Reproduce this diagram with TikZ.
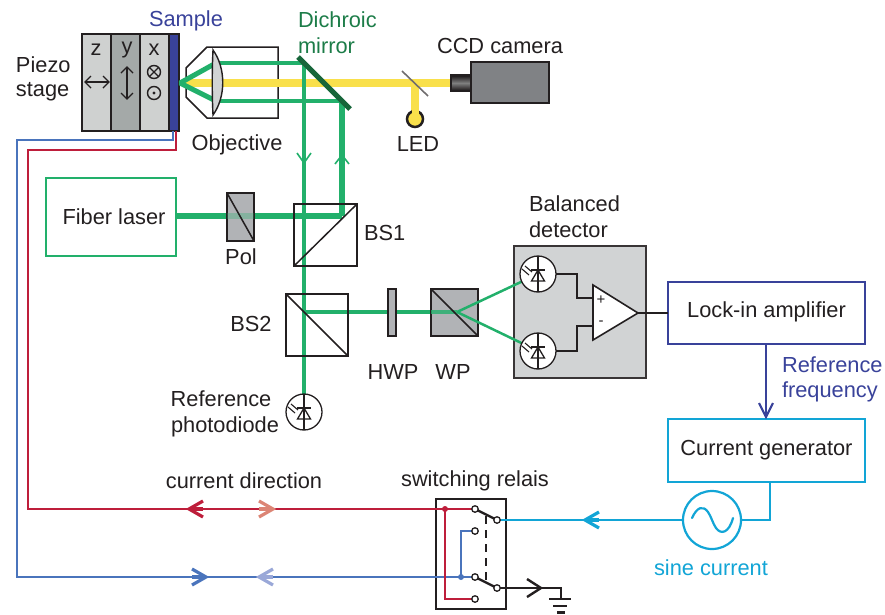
\documentclass[tikz,border=0pt]{standalone}
\usepackage{fontspec}
\setmainfont{Liberation Sans}
\usetikzlibrary{calc}
\definecolor{ink}{HTML}{231F20}
\definecolor{beamg}{HTML}{22B06B}
\definecolor{darkg}{HTML}{17663A}
\definecolor{txtg}{HTML}{1C7C48}
\definecolor{beamy}{HTML}{F9E04B}
\definecolor{navy}{HTML}{39429A}
\definecolor{cyanw}{HTML}{12A5D6}
\definecolor{redw}{HTML}{BE1E3B}
\definecolor{bluew}{HTML}{4A74BC}
\definecolor{lred}{HTML}{DC8575}
\definecolor{lblue}{HTML}{9AA8D8}
\definecolor{pg1}{HTML}{CFD1D0}
\definecolor{pg2}{HTML}{A4A9A8}
\definecolor{optg}{HTML}{B1B3B6}
\definecolor{detg}{HTML}{D1D3D4}
\definecolor{camg}{HTML}{808285}
\tikzset{
  x=1pt,y=-1pt,
  every node/.style={font=\fontsize{21.8}{24}\selectfont,text=ink,inner sep=0pt,outer sep=0pt},
  lab/.style={align=center},
  labl/.style={align=left,anchor=west},
  thickbeam/.style={beamg,line width=6pt},
  midbeam/.style={beamg,line width=4.5pt},
  thinbeam/.style={beamg,line width=2.5pt},
  yelbeam/.style={beamy,line width=7.5pt},
  optic/.style={draw=ink,line width=1.8pt},
  wire/.style={line width=2.7pt},
  thinw/.style={ink,line width=1.5pt},
  chev/.style={line width=3.2pt,line join=miter},
  term/.style={circle,draw=ink,line width=1.3pt,fill=white,minimum size=6.5pt},
  pics/pdiode/.style={code={
    \draw[ink,line width=1.3pt,fill=white] (0,0) circle (18);
    \draw[ink,line width=1.2pt] (0,-18) -- (0,18);
    \draw[ink,line width=1.3pt] (-7,-4) -- (7,-4);
    \draw[ink,line width=1.3pt] (0,-4) -- (-6.5,7) -- (6.5,7) -- cycle;
    \draw[ink,line width=1.1pt] (-16,-5) -- (-9,1);
    \draw[ink,line width=1.1pt] (-13,-8) -- (-6,-2);
  }},
  pics/chevl/.style={code={\draw[chev,pic actions] (9,-8) -- (-5,0) -- (9,8);\draw[chev,pic actions] (-4,0)--(9,0);}},
  pics/chevr/.style={code={\draw[chev,pic actions] (-9,-8) -- (5,0) -- (-9,8);\draw[chev,pic actions] (4,0)--(-9,0);}},
}
\begin{document}
\begin{tikzpicture}
\useasboundingbox (0,0) rectangle (885,614);
% ---- coordinates
\coordinate (focus) at (180,83);
\coordinate (lensT) at (216,63);
\coordinate (lensB) at (216,101);
\coordinate (mT) at (304,63);
\coordinate (mB) at (342,101);
\coordinate (split) at (415,83);
\coordinate (ledtop) at (415,119);
\coordinate (laserbend) at (342,216);
\coordinate (bs2c) at (304,312);
\coordinate (wpc) at (457,312);

% ---- stage
\node[draw=ink,line width=1.5pt,fill=pg1,minimum width=29pt,minimum height=97pt] (pz) at (96.5,82.5) {};
\node[draw=ink,line width=1.5pt,fill=pg2,minimum width=29pt,minimum height=97pt] (py) at (125.5,82.5) {};
\node[draw=ink,line width=1.5pt,fill=pg1,minimum width=29pt,minimum height=97pt] (px) at (154.5,82.5) {};
\node[draw=ink,line width=1.5pt,fill=navy,minimum width=10pt,minimum height=97pt] (sample) at (174,82.5) {};
\node at (96,50) {z};
\node at (127,50) {y};
\node at (154,50) {x};
\coordinate (za) at (85,82); \coordinate (zb) at (109,82);
\coordinate (ya) at (127,67); \coordinate (yb) at (127,99);
\draw[ink,line width=1.4pt] (za) -- (zb);
\draw[ink,line width=1.4pt] (91,76) -- (za) -- (91,88) (103,76) -- (zb) -- (103,88);
\draw[ink,line width=1.4pt] (ya) -- (yb);
\draw[ink,line width=1.4pt] (121,73) -- (ya) -- (133,73) (121,93) -- (yb) -- (133,93);
\draw[ink,line width=1.4pt] (154,72) circle (6.5);
\draw[ink,line width=1.2pt] (149.5,67.5) -- (158.5,76.5) (149.5,76.5) -- (158.5,67.5);
\draw[ink,line width=1.4pt] (154,93) circle (6.5);
\fill[ink] (154,93) circle (1.6);

% ---- objective
\draw[ink,line width=1.5pt,fill=white] (186,68) -- (207,47) -- (278,47) -- (278,118) -- (207,118) -- (186,97) -- cycle;

% ---- beams
\draw[yelbeam] (184,83) -- (split) -- (450,83);
\draw[yelbeam] (split) -- (ledtop);
\draw[beamg,line width=5pt,line join=bevel] (lensT) -- (focus) -- (lensB);
\draw[midbeam] (lensT) -- (mT);
\draw[midbeam] (lensB) -- (mB);
\draw[midbeam] (mT) -- (304,395);
\draw[thickbeam] (mB) -- (laserbend);
\draw[thickbeam] (176,216) -- (laserbend);
\draw[midbeam] (bs2c) -- (wpc);

% ---- lens
\draw[ink,line width=1.4pt,fill=detg] (213,50) .. controls (226,68) and (226,97) .. (213,115) .. controls (212,95) and (212,70) .. (213,50) -- cycle;

% ---- mirror, camera
\draw[darkg,line width=5pt] (298,57) -- (350,109);
\draw[ink!65,line width=1.6pt] (402,71) -- (428,96);
\draw[ink,line width=2.5pt] (451,75) rectangle (471,91);
\shade[top color=ink,bottom color=ink,middle color=gray] (452,76) rectangle (470,90);
\node[draw=ink,line width=2pt,fill=camg,minimum width=78pt,minimum height=41pt] (ccd) at (510,82.5) {};
\draw[ink,line width=2.5pt,fill=beamy] (ledtop) circle (8);
\draw[yelbeam,line width=7pt] (415,95) -- (415,118);

% ---- little arrows on the beams
\draw[beamg,line width=1.6pt] (297,153) -- (304,163) -- (311,153);
\draw[beamg,line width=1.6pt] (335,164) -- (342,155) -- (349,164);

% ---- laser, optics
\node[draw=beamg,line width=2.2pt,minimum width=130pt,minimum height=78pt] (laser) at (111,217) {};
\node at (114,217) {Fiber laser};
\node[optic,fill=optg,minimum width=27pt,minimum height=48pt] (pol) at (240.5,217) {};
\draw[beamg,line width=6pt,opacity=.3] (227,216) -- (254,216);
\draw[ink,line width=1.5pt] (pol.north west) -- (pol.south east);
\node[draw=ink,line width=1.4pt,minimum width=63pt,minimum height=62pt] (bs1) at (325.5,235) {};
\draw[ink,line width=1.5pt] (bs1.south west) -- (bs1.north east);
\node[draw=ink,line width=1.6pt,minimum width=62pt,minimum height=62pt] (bs2) at (317,325) {};
\draw[ink,line width=1.5pt] (bs2.north west) -- (bs2.south east);
\node[optic,fill=optg,minimum width=8pt,minimum height=47pt] (hwp) at (392,312.5) {};
\node[optic,fill=optg,minimum width=47pt,minimum height=47pt] (wp) at (454.5,312.5) {};
\draw[midbeam,opacity=.8] (431,312) -- (wpc);
\draw[ink,line width=1.5pt] (wp.north west) -- (wp.south east);

% ---- detector
\node[draw=ink!90,line width=2.8pt,fill=detg,minimum width=132pt,minimum height=132pt] (det) at (580,312) {};
\coordinate (pd1) at (538,274);
\coordinate (pd2) at (538,351);
\draw[thinbeam] (wpc) -- (pd1);
\draw[thinbeam] (wpc) -- (pd2);
\pic at (pd1) {pdiode};
\pic at (pd2) {pdiode};
\pic at (304,412) {pdiode};
\coordinate (ampplus) at (593,298);
\coordinate (ampminus) at (593,326);
\coordinate (ampout) at (638,313);
\draw[thinw] (556,274) -- (577,274) -- (577,298) -- (ampplus);
\draw[thinw] (556,351) -- (577,351) -- (577,326) -- (ampminus);
\draw[ink,line width=1.6pt,fill=white] (593,285) -- (593,340) -- (ampout) -- cycle;
\node[font=\fontsize{15}{15}\selectfont] at (601,300) {+};
\node[font=\fontsize{15}{15}\selectfont] at (601,323) {-};

% ---- electronics boxes
\node[draw=navy,line width=2.2pt,minimum width=197pt,minimum height=62pt] (lock) at (766.5,313) {};
\node at (766.5,312) {Lock-in amplifier};
\draw[ink,line width=2pt] (ampout) -- (lock.west);
\node[draw=cyanw,line width=2.2pt,minimum width=197pt,minimum height=63pt] (gen) at (766.5,450.5) {};
\node at (766.5,450.5) {Current generator};
\draw[navy,line width=2.2pt] (766,344) -- (766,418);
\draw[navy,line width=2.2pt,line join=miter] (759,403) -- (766,417) -- (773,403);

% ---- sine source
\node[circle,draw=cyanw,line width=2.2pt,minimum size=58pt] (src) at (712,520) {};
\draw[cyanw,line width=2.2pt,line cap=round] (692,518) .. controls (697,507) and (703,505) .. (708,512) .. controls (711,516) and (713,524) .. (716,528) .. controls (721,535) and (729,533) .. (733,518);
\coordinate (genout) at (770,482);
\draw[cyanw,line width=2.2pt] (genout) -- (770,520) -- (src.east);

% ---- relay
\node[draw=ink,line width=2.8pt,minimum width=70pt,minimum height=110pt] (relay) at (471,554) {};
\coordinate (t1) at (475,509);
\coordinate (t2) at (497,520);
\coordinate (t3) at (475,531);
\coordinate (t4) at (475,577);
\coordinate (t5) at (497,588);
\coordinate (t6) at (475,599);
% wires from the sample
\coordinate (rstart) at (176,131);
\coordinate (bstart) at (173,131);
\draw[bluew,wire,line join=miter] (bstart) -- (173,140) -- (17,140) -- (17,577) -- (t4);
\draw[redw,wire,line join=miter] (rstart) -- (176,150) -- (28,150) -- (28,509) -- (t1);
\draw[redw,wire] (445,509) -- (445,599) -- (t6);
\fill[redw] (445,509) circle (3);
\draw[bluew,wire] (461,577) -- (461,531) -- (t3);
\fill[bluew] (461,577) circle (3);
\draw[cyanw,wire] (src.west) -- (t2);
\draw[ink,line width=2.4pt] (t1) -- (t2);
\draw[ink,line width=2.4pt] (t4) -- (t5);
\draw[ink,line width=1.8pt,dash pattern=on 8pt off 6pt] (486,516) -- (486,582);
\draw[ink,line width=2.4pt] (t5) -- (561,588) -- (561,599);
\draw[ink,line width=2.4pt] (527,579) -- (541,588) -- (527,597);
\draw[ink,line width=2.8pt] (549,599) -- (571,599);
\draw[ink,line width=2.8pt] (553,606) -- (567,606);
\draw[ink,line width=2.8pt] (557,612.5) -- (565,612.5);
\foreach \t in {t1,t2,t3,t4,t5,t6} \node[term] at (\t) {};
% direction chevrons
\pic[redw] at (194,509) {chevl};
\pic[lred] at (268,509) {chevr};
\pic[bluew] at (201,577) {chevr};
\pic[lblue] at (264,577) {chevl};
\pic[cyanw] at (590,520) {chevl};

% ---- labels
\node[lab,text=navy] at (186,21) {Sample};
\node[labl,text=txtg] at (298,20) {Dichroic};
\node[labl,text=txtg] at (298,46) {mirror};
\node[labl] at (16,65) {Piezo};
\node[labl] at (16,92) {stage};
\node at (237,144.5) {Objective};
\node at (500,46) {CCD camera};
\node at (418,144) {LED};
\node at (241,257) {Pol};
\node[labl] at (364,233) {BS1};
\node at (251,324) {BS2};
\node at (393,372) {HWP};
\node at (453,372) {WP};
\node at (221,399) {Reference};
\node at (225,427) {photodiode};
\node[labl] at (529,204) {Balanced};
\node[labl] at (529,230) {detector};
\node[labl,text=navy] at (782,365) {Reference};
\node[labl,text=navy] at (782,392) {frequency};
\node at (244,481) {current direction};
\node at (475,481) {switching relais};
\node[text=cyanw] at (711,568) {sine current};
\end{tikzpicture}
\end{document}
